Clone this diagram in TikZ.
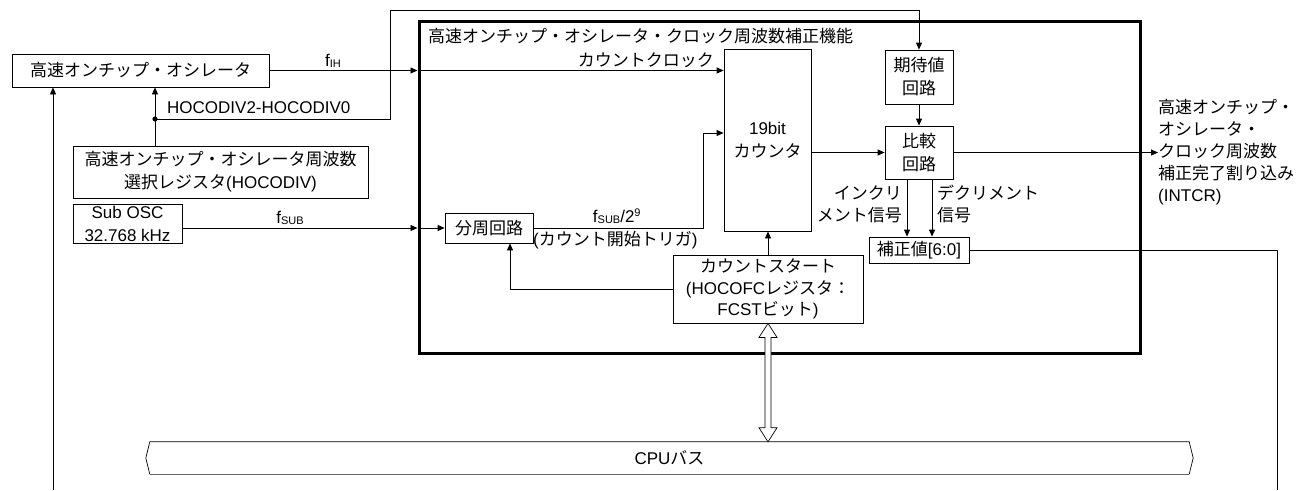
\documentclass[tikz,border=0pt]{standalone}
\usepackage{fontspec}
\setmainfont{Liberation Sans}
\newfontfamily\jp{Noto Sans CJK JP}
\usetikzlibrary{arrows.meta,calc}
\newcommand\fs{\fontsize{17}{23}\selectfont}
\newcommand\subt[1]{\raisebox{-1pt}{\fontsize{11}{11}\selectfont #1}}
\begin{document}
\begin{tikzpicture}[x=1pt,y=-1pt,
  box/.style={draw, line width=0.8pt, inner sep=0pt, align=center, font=\fs},
  lbl/.style={inner sep=0pt, font=\fs},
  arr/.style={line width=0.8pt, -{Triangle[length=7pt,width=6pt]}},
  ln/.style={line width=0.8pt}]
\path[use as bounding box] (0,0) rectangle (1297,490);

% main frame
\node[draw, line width=3pt, minimum width=721, minimum height=332, inner sep=0pt] (main) at (779.5,187) {};
\node[lbl, anchor=west] (title) at (428,36) {\jp 高速オンチップ・オシレータ・クロック周波数補正機能};

% left blocks
\node[box, minimum width=257, minimum height=33] (osc) at (140.5,70.5) {\jp 高速オンチップ・オシレータ};
\node[box, minimum width=295, minimum height=52] (hreg) at (220.5,172) {{\jp 高速オンチップ・オシレータ周波数}\\{\jp 選択レジスタ}(HOCODIV)};
\node[box, minimum width=109, minimum height=39] (subosc) at (127.5,223.5) {Sub OSC\\32.768 kHz};

% inner blocks
\node[box, minimum width=87, minimum height=182] (counter) at (767.5,140) {19bit\\{\jp カウンタ}};
\node[box, minimum width=68, minimum height=54] (exp) at (919,77) {{\jp 期待値}\\{\jp 回路}};
\node[box, minimum width=68, minimum height=53] (cmp) at (919,152.5) {{\jp 比較}\\{\jp 回路}};
\node[box, minimum width=100, minimum height=26] (hosei) at (919,250) {{\jp 補正値}[6:0]};
\node[box, minimum width=190, minimum height=68, font=\fontsize{17}{21.5}\selectfont] (cs) at (768,289) {{\jp カウントスタート}\\(HOCOFC{\jp レジスタ：}\\FCST{\jp ビット})};
\node[box, minimum width=88, minimum height=30] (div) at (489,228) {\jp 分周回路};

% output text
\node[lbl, anchor=west, align=left, font=\fontsize{17}{22}\selectfont] (out) at (1158,152) {{\jp 高速オンチップ・}\\{\jp オシレータ・}\\{\jp クロック周波数}\\{\jp 補正完了割り込み}\\(INTCR)};

% bus
\node[minimum width=1039, minimum height=32, inner sep=0pt, font=\fontsize{17}{17}\selectfont] (bus) at (669.5,458) {CPU{\jp バス}};
\draw[line width=0.7pt] (bus.south west) -- ($(bus.west)+(-4,0)$) -- (bus.north west) -- (bus.north east) -- ($(bus.east)+(4,0)$) -- (bus.south east);
\draw[line width=0.8pt, black!60] (bus.south west) -- (bus.south east);

% fIH / count clock
\coordinate (M1) at (osc.east -| main.west);
\draw[arr] (osc.east) -- (M1);
\draw[arr] (M1) -- (M1 -| counter.west);
\node[lbl] (fih) at (333,61) {f\subt{IH}};
\node[lbl, anchor=south east] (cclk) at (714,68) {\jp カウントクロック};

% HOCODIV feedback
\coordinate (J) at (155,119);
\coordinate (T1) at (390,10);
\draw[arr] (J |- hreg.north) -- (J |- osc.south);
\draw[arr] (J) -| (T1) -| (exp.north);
\fill (J) circle (2.6pt);
\node[lbl, anchor=west] (hdiv) at (167,108) {HOCODIV2-HOCODIV0};

% long left line
\coordinate (B1) at (53,490);
\draw[arr] (B1) -- (B1 |- osc.south);

% fSUB
\coordinate (M2) at (div.west -| main.west);
\draw[arr] (subosc.east |- div.west) -- (M2);
\draw[arr] (M2) -- (div.west);
\node[lbl] (fsub) at (290,218) {f\subt{SUB}};

% divider -> counter
\coordinate (K) at (703,133);
\draw[arr] (div.east) -| (K) -- (K -| counter.west);
\node[lbl] (fsub2) at (617,216) {f\subt{SUB}/2\textsuperscript{\fontsize{11}{11}\selectfont 9}};
\node[lbl, anchor=west] (trig) at (533,240) {({\jp カウント開始トリガ})};

% count start
\draw[arr] (cs.north) -- (cs.north |- counter.south);
\coordinate (D1) at (510,289);
\draw[arr] (cs.west) -- (D1) -- (D1 |- div.south);

% counter -> compare, expected -> compare
\draw[arr] (counter.east |- cmp.west) -- (cmp.west);
\draw[arr] (exp.south) -- (cmp.north);
\draw[arr] (cmp.east) -- (cmp.east -| out.west);

% inc / dec
\draw[arr] ([xshift=-12pt]cmp.south) -- ([xshift=-12pt]hosei.north);
\draw[arr] ([xshift=13pt]cmp.south) -- ([xshift=13pt]hosei.north);
\node[lbl, anchor=east, align=right, font=\fontsize{17}{22}\selectfont] (inc) at (902,204) {{\jp インクリ}\\{\jp メント信号}};
\node[lbl, anchor=west, align=left, font=\fontsize{17}{22}\selectfont] (dec) at (937,204) {{\jp デクリメント}\\{\jp 信号}};

% hosei -> right line
\coordinate (B2) at (1277,490);
\draw[ln] (hosei.east) -| (B2);

% bus double arrow
\coordinate (u) at (cs.south);
\coordinate (d) at (cs.south |- bus.north);
\draw[line width=0.7pt, fill=white] (u) -- ++(9,14) -- ++(-6,0) -- ($(d)+(3,-14)$) -- ++(6,0) -- (d) -- ++(-9,-14) -- ++(6,0) -- ($(u)+(-3,14)$) -- ++(-6,0) -- cycle;
\end{tikzpicture}
\end{document}
